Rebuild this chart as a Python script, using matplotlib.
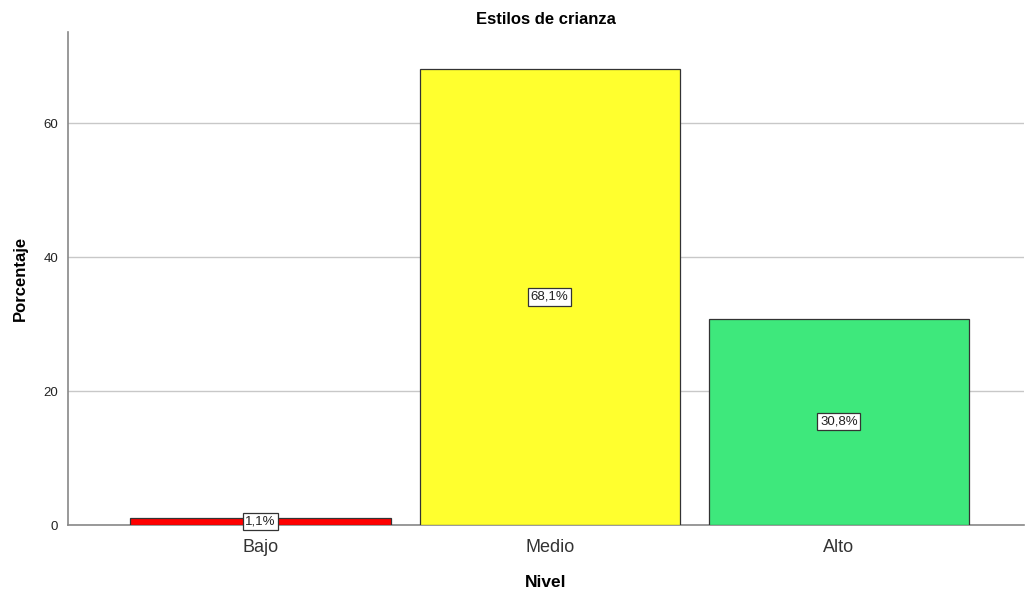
import matplotlib
matplotlib.use("Agg")
import matplotlib.pyplot as plt

plt.rcParams['font.family'] = ['Liberation Sans', 'DejaVu Sans']

# ---------------- Data ----------------
niveles = ["Bajo", "Medio", "Alto"]
porcentajes = [1.1, 68.1, 30.8]
etiquetas = ["1,1%", "68,1%", "30,8%"]
colores = ["#ff0000", "#ffff2e", "#3ee87c"]

# ---------------- Plot ----------------
fig = plt.figure(figsize=(10.25, 5.97), dpi=100)
ax = fig.add_axes([0.0663, 0.1206, 0.9327, 0.8258])

x = range(len(niveles))
ax.bar(x, porcentajes, width=0.9, color=colores, edgecolor="#333333", linewidth=0.9, zorder=3)

for xi, v, lab in zip(x, porcentajes, etiquetas):
    ax.text(xi, v / 2, lab, ha="center", va="center", fontsize=9.5, color="#222222", zorder=4,
            bbox=dict(boxstyle="square,pad=0.2", fc="white", ec="#333333", lw=0.9))

ax.set_xlim(-0.666, 2.64)
ax.set_ylim(0, 73.6)
ax.set_yticks([0, 20, 40, 60])
ax.yaxis.grid(True, color="#c8c8c8", linewidth=1.0, zorder=0)
ax.set_axisbelow(True)

ax.set_xticks(list(x))
ax.set_xticklabels(niveles, fontsize=13, color="#333333")
ax.tick_params(axis="x", length=0, pad=10)
ax.tick_params(axis="y", length=0, pad=7, labelsize=9.5, colors="#222222")

for s in ["top", "right"]:
    ax.spines[s].set_visible(False)
for s in ["left", "bottom"]:
    ax.spines[s].set_color("#888888")
    ax.spines[s].set_linewidth(1.2)

ax.set_title("Estilos de crianza", fontsize=12, fontweight="bold", pad=6)
ax.set_xlabel("Nivel", fontsize=12.5, fontweight="bold", labelpad=14)
ax.set_ylabel("Porcentaje", fontsize=12, fontweight="bold", labelpad=11)

fig.savefig("out.png", dpi=100)
